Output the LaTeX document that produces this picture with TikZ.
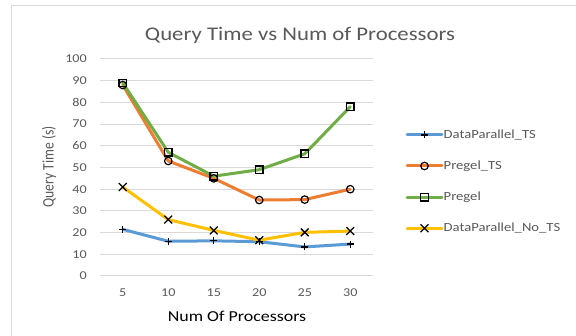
\documentclass[tikz,border=0pt]{standalone}
\usepackage{fontspec}
\setmainfont{Carlito}[FakeStretch=1.18]
\newfontfamily\plainfont{Carlito}
\usetikzlibrary{shapes.misc}
\definecolor{cblue}{HTML}{5B9BD5}
\definecolor{corange}{HTML}{ED7D31}
\definecolor{cgreen}{HTML}{70AD47}
\definecolor{cgold}{HTML}{FFC000}
\definecolor{cgrid}{HTML}{D9D9D9}
\definecolor{ctext}{HTML}{595959}
\tikzset{
  gridline/.style={draw=cgrid, line width=1pt},
  series/.style={line width=3pt, line join=round, line cap=round},
  tick/.style={font=\fontsize{12}{12}\selectfont, text=ctext, inner sep=0pt},
  legtext/.style={font=\fontsize{12.4}{12.4}\selectfont, text=ctext, anchor=west, inner sep=0pt},
  mcirc/.style={circle, draw=black, line width=1.2pt, minimum size=7.5pt, inner sep=0pt},
  msq/.style={rectangle, draw=black, line width=1.2pt, minimum size=7.5pt, inner sep=0pt},
  mcross/.style={cross out, draw=black, line width=1.3pt, minimum size=6.5pt, inner sep=0pt},
  mplus/.style={line width=1.3pt, draw=black},
}
\begin{document}
\begin{tikzpicture}[x=1pt,y=1pt]
\useasboundingbox (0,0) rectangle (576,336);
\fill[white] (0,0) rectangle (576,336);
% chart frame (cropped)
\draw[cgrid, line width=1.6pt] (11.5,0) -- (11.5,330.5) -- (576,330.5);
% title
\node[font=\fontsize{19.3}{19.3}\selectfont, text=ctext, anchor=base] (title) at (300,295) {Query Time vs Num of Processors};
% gridlines and y ticks
\foreach \k in {0,...,10}{
  \pgfmathsetmacro{\yy}{60+21.7*\k}
  \pgfmathtruncatemacro{\lab}{10*\k}
  \draw[gridline] (100,\yy) -- (373,\yy);
  \node[tick, anchor=east] (yt\k) at (87,\yy) {\lab};
}
% x ticks
\foreach \i/\lab in {1/5,2/10,3/15,4/20,5/25,6/30}{
  \node[tick] (xt\i) at (77.25+45.5*\i,43) {\lab};
}
% axis titles
\node[font=\fontsize{15.2}{15.2}\selectfont, anchor=base] (xtitle) at (237,14.3) {Num Of Processors};
\node[rotate=90, text=ctext, inner sep=0pt] (ytitle) at (49,169) {\scalebox{1}[1.18]{\plainfont\fontsize{13.6}{13.6}\selectfont Query Time (s)}};
% data
\begin{scope}[x=45.5pt, y=2.17pt, shift={(77.25pt,60pt)}]
  \foreach \i/\v in {1/21.5,2/16,3/16.2,4/15.8,5/13.4,6/14.7}{\coordinate (a\i) at (\i,\v);}
  \foreach \i/\v in {1/88,2/53,3/45,4/35,5/35.2,6/40}{\coordinate (b\i) at (\i,\v);}
  \foreach \i/\v in {1/89,2/57,3/46,4/49,5/56.3,6/78}{\coordinate (c\i) at (\i,\v);}
  \foreach \i/\v in {1/41,2/26,3/21,4/16.5,5/20.1,6/20.7}{\coordinate (d\i) at (\i,\v);}
\end{scope}
\draw[series, cblue] (a1) -- (a2) -- (a3) -- (a4) -- (a5) -- (a6);
\draw[series, cgold] (d1) -- (d2) -- (d3) -- (d4) -- (d5) -- (d6);
\draw[series, corange] (b1) -- (b2) -- (b3) -- (b4) -- (b5) -- (b6);
\draw[series, cgreen] (c1) -- (c2) -- (c3) -- (c4) -- (c5) -- (c6);
\foreach \i in {1,...,6}{
  \draw[mplus] ([xshift=-3.5pt]a\i) -- ([xshift=3.5pt]a\i) ([yshift=-3.5pt]a\i) -- ([yshift=3.5pt]a\i);
  \node[mcirc] (mb\i) at (b\i) {};
  \node[msq] (mc\i) at (c\i) {};
  \node[mcross] (md\i) at (d\i) {};
}
% legend
\coordinate (la0) at (407,201); \coordinate (la1) at (442,201); \coordinate (lam) at (424.5,201);
\coordinate (lb0) at (407,170); \coordinate (lb1) at (442,170); \coordinate (lbm) at (424.5,170);
\coordinate (lc0) at (407,138.7); \coordinate (lc1) at (442,138.7); \coordinate (lcm) at (424.5,138.7);
\coordinate (ld0) at (407,107.7); \coordinate (ld1) at (442,107.7); \coordinate (ldm) at (424.5,107.7);
\draw[series, cblue] (la0) -- (la1);
\draw[series, corange] (lb0) -- (lb1);
\draw[series, cgreen] (lc0) -- (lc1);
\draw[series, cgold] (ld0) -- (ld1);
\draw[mplus] ([xshift=-3.5pt]lam) -- ([xshift=3.5pt]lam) ([yshift=-3.5pt]lam) -- ([yshift=3.5pt]lam);
\node[mcirc] (lbmk) at (lbm) {};
\node[msq] (lcmk) at (lcm) {};
\node[mcross] (ldmk) at (ldm) {};
\node[legtext] (lta) at (443.5,201) {DataParallel\_TS};
\node[legtext] (ltb) at (443.5,170) {Pregel\_TS};
\node[legtext] (ltc) at (443.5,138.7) {Pregel};
\node[legtext] (ltd) at (443.5,107.7) {DataParallel\_No\_TS};
\end{tikzpicture}
\end{document}
